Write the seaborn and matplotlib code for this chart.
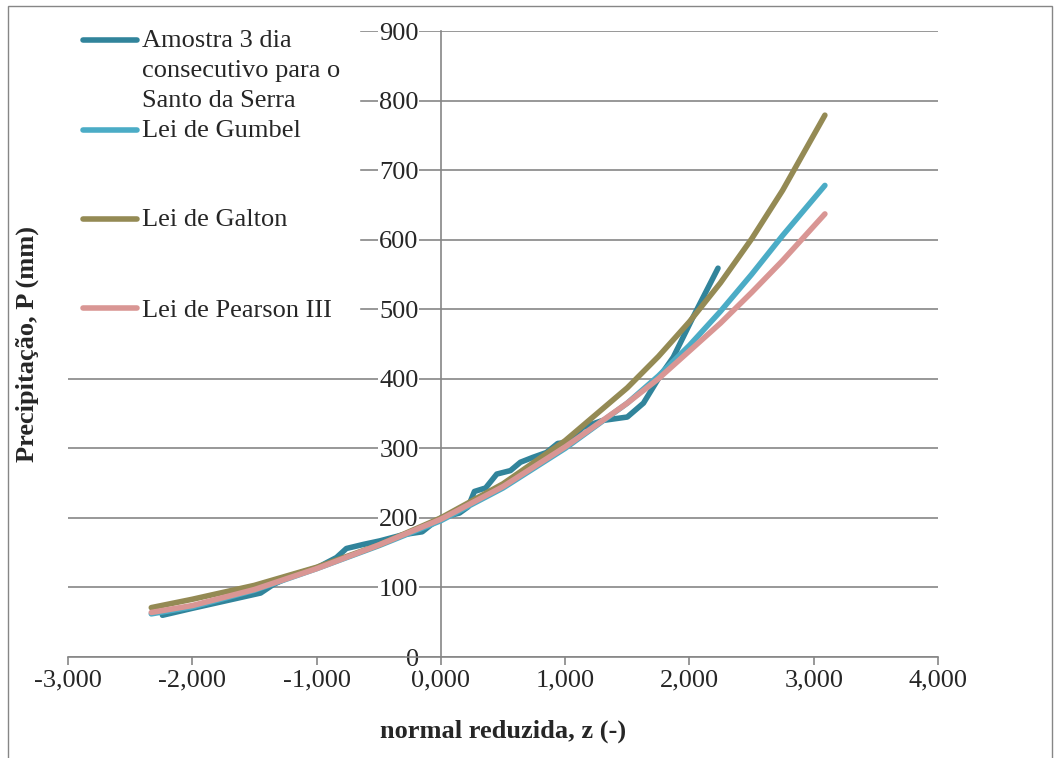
import numpy as np
import matplotlib
matplotlib.use("Agg")
import matplotlib.pyplot as plt
import seaborn as sns
from matplotlib.lines import Line2D
from matplotlib.patches import Rectangle
from matplotlib.legend_handler import HandlerLine2D

# sample (observed) values: reduced normal variate vs precipitation
z_sample = [-2.24, -2.00, -1.75, -1.55, -1.45, -1.35, -1.19, -1.00, -0.84, -0.76,
            -0.62, -0.49, -0.30, -0.15, -0.08, 0.00, 0.15, 0.22, 0.27, 0.36,
            0.45, 0.56, 0.64, 0.74, 0.85, 0.94, 1.04, 1.14, 1.30, 1.50,
            1.63, 1.76, 1.87, 2.03, 2.23]
p_sample = [60, 70, 80, 88, 92, 104, 118, 128, 143, 156,
            162, 167, 176, 180, 190, 200, 207, 216, 238, 243,
            263, 268, 280, 287, 294, 307, 309, 330, 340, 345,
            365, 403, 431, 489, 559]

# fitted laws
z_fit = [-2.33, -2.0, -1.5, -1.0, -0.5, 0.0, 0.5, 1.0, 1.5, 1.75, 2.0, 2.25, 2.5, 2.75, 3.09]
p_gumbel = [62, 72, 96, 127, 160, 196, 243, 300, 365, 404, 448, 497, 550, 606, 678]
p_galton = [71, 83, 103, 129, 161, 200, 249, 311, 387, 432, 482, 538, 601, 671, 779]
p_pearson = [64, 74, 97, 127, 161, 198, 245, 302, 365, 400, 440, 480, 524, 570, 637]

series_names = ["Amostra 3 dia consecutivo para o Santo da Serra", "Lei de Gumbel",
                "Lei de Galton", "Lei de Pearson III"]
legend_labels = ["Amostra 3 dia\nconsecutivo para o\nSanto da Serra", "Lei de Gumbel\n\n",
                 "Lei de Galton\n\n", "Lei de Pearson III"]
colors = ["#31849b", "#4bacc6", "#948a54", "#d99694"]

x_ticks = [-3, -2, -1, 0, 1, 2, 3, 4]
x_tick_labels = ["-3,000", "-2,000", "-1,000", "0,000", "1,000", "2,000", "3,000", "4,000"]
y_ticks = [0, 100, 200, 300, 400, 500, 600, 700, 800, 900]

GRID = "#868686"
FS = 19


class FirstLineHandler(HandlerLine2D):
  """Put the legend line next to the first line of a multi-line label."""

  def __init__(self, lift=0.0, **kw):
    super().__init__(**kw)
    self.lift = lift

  def create_artists(self, legend, orig_handle, xdescent, ydescent, width, height, fontsize, trans):
    return super().create_artists(legend, orig_handle, xdescent, ydescent - 2 * self.lift,
                                  width, height, fontsize, trans)


sns.set_style("white")
plt.rcParams['font.family'] = ['Liberation Serif', 'DejaVu Serif']

fig = plt.figure(figsize=(10.64, 7.58), dpi=100)
ax = fig.add_axes([68 / 1064, 1 - 657 / 758, 870 / 1064, 626 / 758])

data = [(z_sample, p_sample), (z_fit, p_gumbel), (z_fit, p_galton), (z_fit, p_pearson)]
for (xs, ys), name, c in zip(data, series_names, colors):
  sns.lineplot(x=xs, y=ys, ax=ax, color=c, linewidth=4, sort=False, estimator=None,
               solid_capstyle='round', solid_joinstyle='round', zorder=3)

ax.set_xlim(-3, 4)
ax.set_ylim(0, 900)
ax.set_xticks(x_ticks)
ax.set_xticklabels(x_tick_labels)
ax.set_yticks(y_ticks)
ax.set_yticklabels([str(v) for v in y_ticks])

for s in ["top", "right"]:
  ax.spines[s].set_visible(False)
ax.spines["left"].set_position(("data", 0))
ax.spines["bottom"].set_position(("data", 0))
for s in ["left", "bottom"]:
  ax.spines[s].set_color(GRID)
  ax.spines[s].set_linewidth(1.2)

ax.grid(axis="y", color=GRID, linewidth=1.2)
ax.grid(axis="x", visible=False)
ax.tick_params(axis="x", direction="out", length=6, width=1.2, color=GRID, pad=3,
               labelsize=FS, bottom=True)
ax.tick_params(axis="y", length=0, pad=16, labelsize=FS, left=True)
for lab in ax.get_yticklabels():
  lab.set_bbox(dict(facecolor="white", edgecolor="none", pad=0.5))

ax.set_xlabel("normal reduzida, z (-)", fontsize=FS, fontweight="bold")
ax.set_ylabel("Precipitação, P (mm)", fontsize=FS, fontweight="bold")
ax.xaxis.set_label_coords(0.5, -0.1)
ax.yaxis.set_label_coords(-0.033, 0.5)

handles = [Line2D([], [], color=c, linewidth=4, solid_capstyle='round') for c in colors]
lift = 21.6
hmap = {handles[0]: FirstLineHandler(lift), handles[1]: FirstLineHandler(lift),
        handles[2]: FirstLineHandler(lift), handles[3]: FirstLineHandler(0.0)}
leg = ax.legend(handles, legend_labels, handler_map=hmap, loc="upper left",
                bbox_to_anchor=(-0.004, 1.031), borderaxespad=0, borderpad=0.7,
                labelspacing=0.3, handlelength=2.05, handletextpad=0.2,
                frameon=True, framealpha=1, facecolor="white", edgecolor="white",
                fancybox=False, fontsize=FS)
leg.set_zorder(5)
for t in leg.get_texts():
  t.set_linespacing(1.46)

fig.add_artist(Rectangle((8 / 1064, -0.05), 1044 / 1064, 1.05 - 6 / 758,
                         transform=fig.transFigure, fill=False, edgecolor=GRID, linewidth=1))

fig.savefig("out.png", dpi=100)
